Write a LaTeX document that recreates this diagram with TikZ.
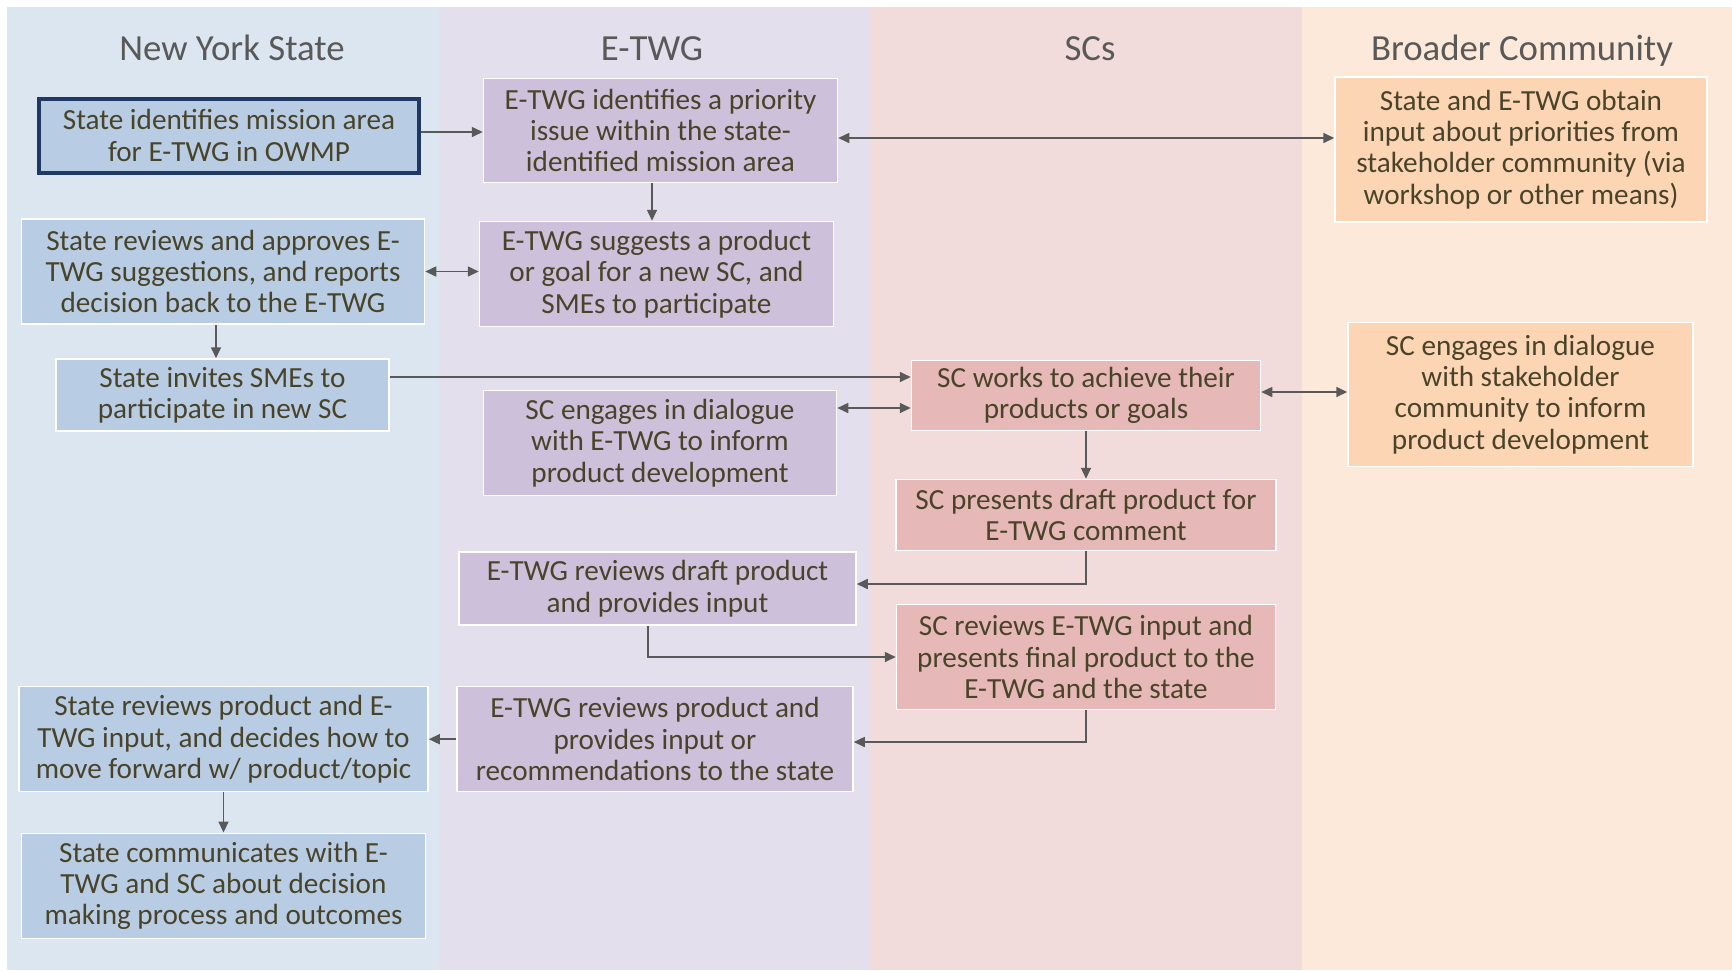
\documentclass[tikz,border=0pt]{standalone}
\usepackage{fontspec}
\setmainfont{Carlito}
\usetikzlibrary{arrows.meta}
\definecolor{nyslane}{HTML}{DCE6F1}
\definecolor{twglane}{HTML}{E4DFEC}
\definecolor{sclane}{HTML}{F2DCDB}
\definecolor{comlane}{HTML}{FDE9D9}
\definecolor{nysfill}{HTML}{B8CCE4}
\definecolor{twgfill}{HTML}{CCC0DA}
\definecolor{scfill}{HTML}{E6B9B8}
\definecolor{comfill}{HTML}{FCD5B4}
\definecolor{navycol}{HTML}{1F3864}
\definecolor{txtcol}{RGB}{73,68,41}
\definecolor{headcol}{HTML}{595959}
\definecolor{arrcol}{HTML}{595959}

\begin{document}
\begin{tikzpicture}[x=0.5pt, y=-0.5pt,
    box/.style={rectangle, draw=white, line width=0.75pt, inner sep=0pt,
        align=center, text=txtcol, font=\fontsize{14.6}{15.7}\selectfont},
    lanehead/.style={anchor=base, text=headcol, font=\fontsize{18.4}{21}\selectfont},
    flow/.style={-{Triangle[length=5.5pt,width=5pt]}, draw=arrcol, line width=0.8pt},
    twoway/.style={{Triangle[length=5.5pt,width=5pt]}-{Triangle[length=5.5pt,width=5pt]}, draw=arrcol, line width=0.8pt}]

    \useasboundingbox (0,0) rectangle (1732,970);
    \fill[white] (0,0) rectangle (1732,970);

    % Swim lanes
    \fill[nyslane] (7,7) rectangle (439,970);
    \fill[twglane] (439,7) rectangle (869,970);
    \fill[sclane] (869,7) rectangle (1302,970);
    \fill[comlane] (1302,7) rectangle (1732,970);

    % Lane headers
    \node[lanehead] (hnys) at (232,60) {New York State};
    \node[lanehead] (htwg) at (652,60) {E-TWG};
    \node[lanehead] (hsc) at (1090,60) {SCs};
    \node[lanehead] (hcom) at (1522,60) {Broader Community};

    % New York State boxes
    \node[box, fill=nysfill, draw=navycol, line width=2pt, minimum width=190pt, minimum height=37pt]
        (a1) at (229,135.5) {State identifies mission area\\for E-TWG in OWMP};
    \node[box, fill=nysfill, minimum width=201.5pt, minimum height=52.5pt]
        (a2) at (223,271.5) {State reviews and approves E-\\TWG suggestions, and reports\\decision back to the E-TWG};
    \node[box, fill=nysfill, minimum width=166.5pt, minimum height=36pt]
        (a3) at (222.5,395) {State invites SMEs to\\participate in new SC};
    \node[box, fill=nysfill, minimum width=204.5pt, minimum height=52.5pt]
        (a4) at (223.5,739.2) {State reviews product and E-\\TWG input, and decides how to\\move forward w/ product/topic};
    \node[box, fill=nysfill, minimum width=202pt, minimum height=52.5pt]
        (a5) at (223.5,885.8) {State communicates with E-\\TWG and SC about decision\\making process and outcomes};

    % E-TWG boxes
    \node[box, fill=twgfill, minimum width=177pt, minimum height=52pt]
        (b1) at (660.5,130.5) {E-TWG identifies a priority\\issue within the state-\\identified mission area};
    \node[box, fill=twgfill, minimum width=177pt, minimum height=52.5pt]
        (b2) at (656.5,274) {E-TWG suggests a product\\or goal for a new SC, and\\SMEs to participate};
    \node[box, fill=twgfill, minimum width=176.5pt, minimum height=52.5pt]
        (b3) at (660,443) {SC engages in dialogue\\with E-TWG to inform\\product development};
    \node[box, fill=twgfill, minimum width=198.5pt, minimum height=36.5pt]
        (b4) at (657.5,588.7) {E-TWG reviews draft product\\and provides input};
    \node[box, fill=twgfill, minimum width=198pt, minimum height=52.5pt]
        (b5) at (655,739.2) {E-TWG reviews product and\\provides input or\\recommendations to the state};

    % SC boxes
    \node[box, fill=scfill, minimum width=174.5pt, minimum height=35pt]
        (c1) at (1086,395.5) {SC works to achieve their\\products or goals};
    \node[box, fill=scfill, minimum width=190pt, minimum height=35.5pt]
        (c2) at (1086,515) {SC presents draft product for\\E-TWG comment};
    \node[box, fill=scfill, minimum width=189.5pt, minimum height=52.5pt]
        (c3) at (1086,657) {SC reviews E-TWG input and\\presents final product to the\\E-TWG and the state};

    % Broader community boxes
    \node[box, fill=comfill, minimum width=186pt, minimum height=72.5pt]
        (d1) at (1521,149.5) {State and E-TWG obtain\\input about priorities from\\stakeholder community (via\\workshop or other means)};
    \node[box, fill=comfill, minimum width=172.5pt, minimum height=72pt]
        (d2) at (1520.5,394.5) {SC engages in dialogue\\with stakeholder\\community to inform\\product development};

    % Arrows
    \draw[flow] ([yshift=1.75pt]a1.east) -- ([yshift=1.75pt]a1.east -| b1.west);
    \draw[twoway] ([yshift=-3.75pt]b1.east) -- ([yshift=-3.75pt]b1.east -| d1.west);
    \draw[flow] ([xshift=-4.25pt]b1.south) -- ([xshift=-4.25pt]b1.south |- b2.north);
    \draw[twoway] (a2.east) -- (a2.east -| b2.west);
    \draw[flow] ([xshift=-3.5pt]a2.south) -- ([xshift=-3.5pt]a2.south |- a3.north);
    \draw[flow] ([yshift=9pt]a3.east) -- ([yshift=9pt]a3.east -| c1.west);
    \draw[twoway] ([yshift=17.5pt]b3.east) -- ([yshift=17.5pt]b3.east -| c1.west);
    \draw[twoway] ([yshift=1.75pt]c1.east) -- ([yshift=1.75pt]c1.east -| d2.west);
    \draw[flow] (c1.south) -- (c2.north);
    \draw[flow] (c2.south) |- ([yshift=2.35pt]b4.east);
    \draw[flow] ([xshift=-4.75pt]b4.south) |- (c3.west);
    \draw[flow] (c3.south) |- ([yshift=-1.4pt]b5.east);
    \draw[flow] (b5.west) -- (a4.east);
    \draw[flow] (a4.south) -- (a5.north);

\end{tikzpicture}
\end{document}
